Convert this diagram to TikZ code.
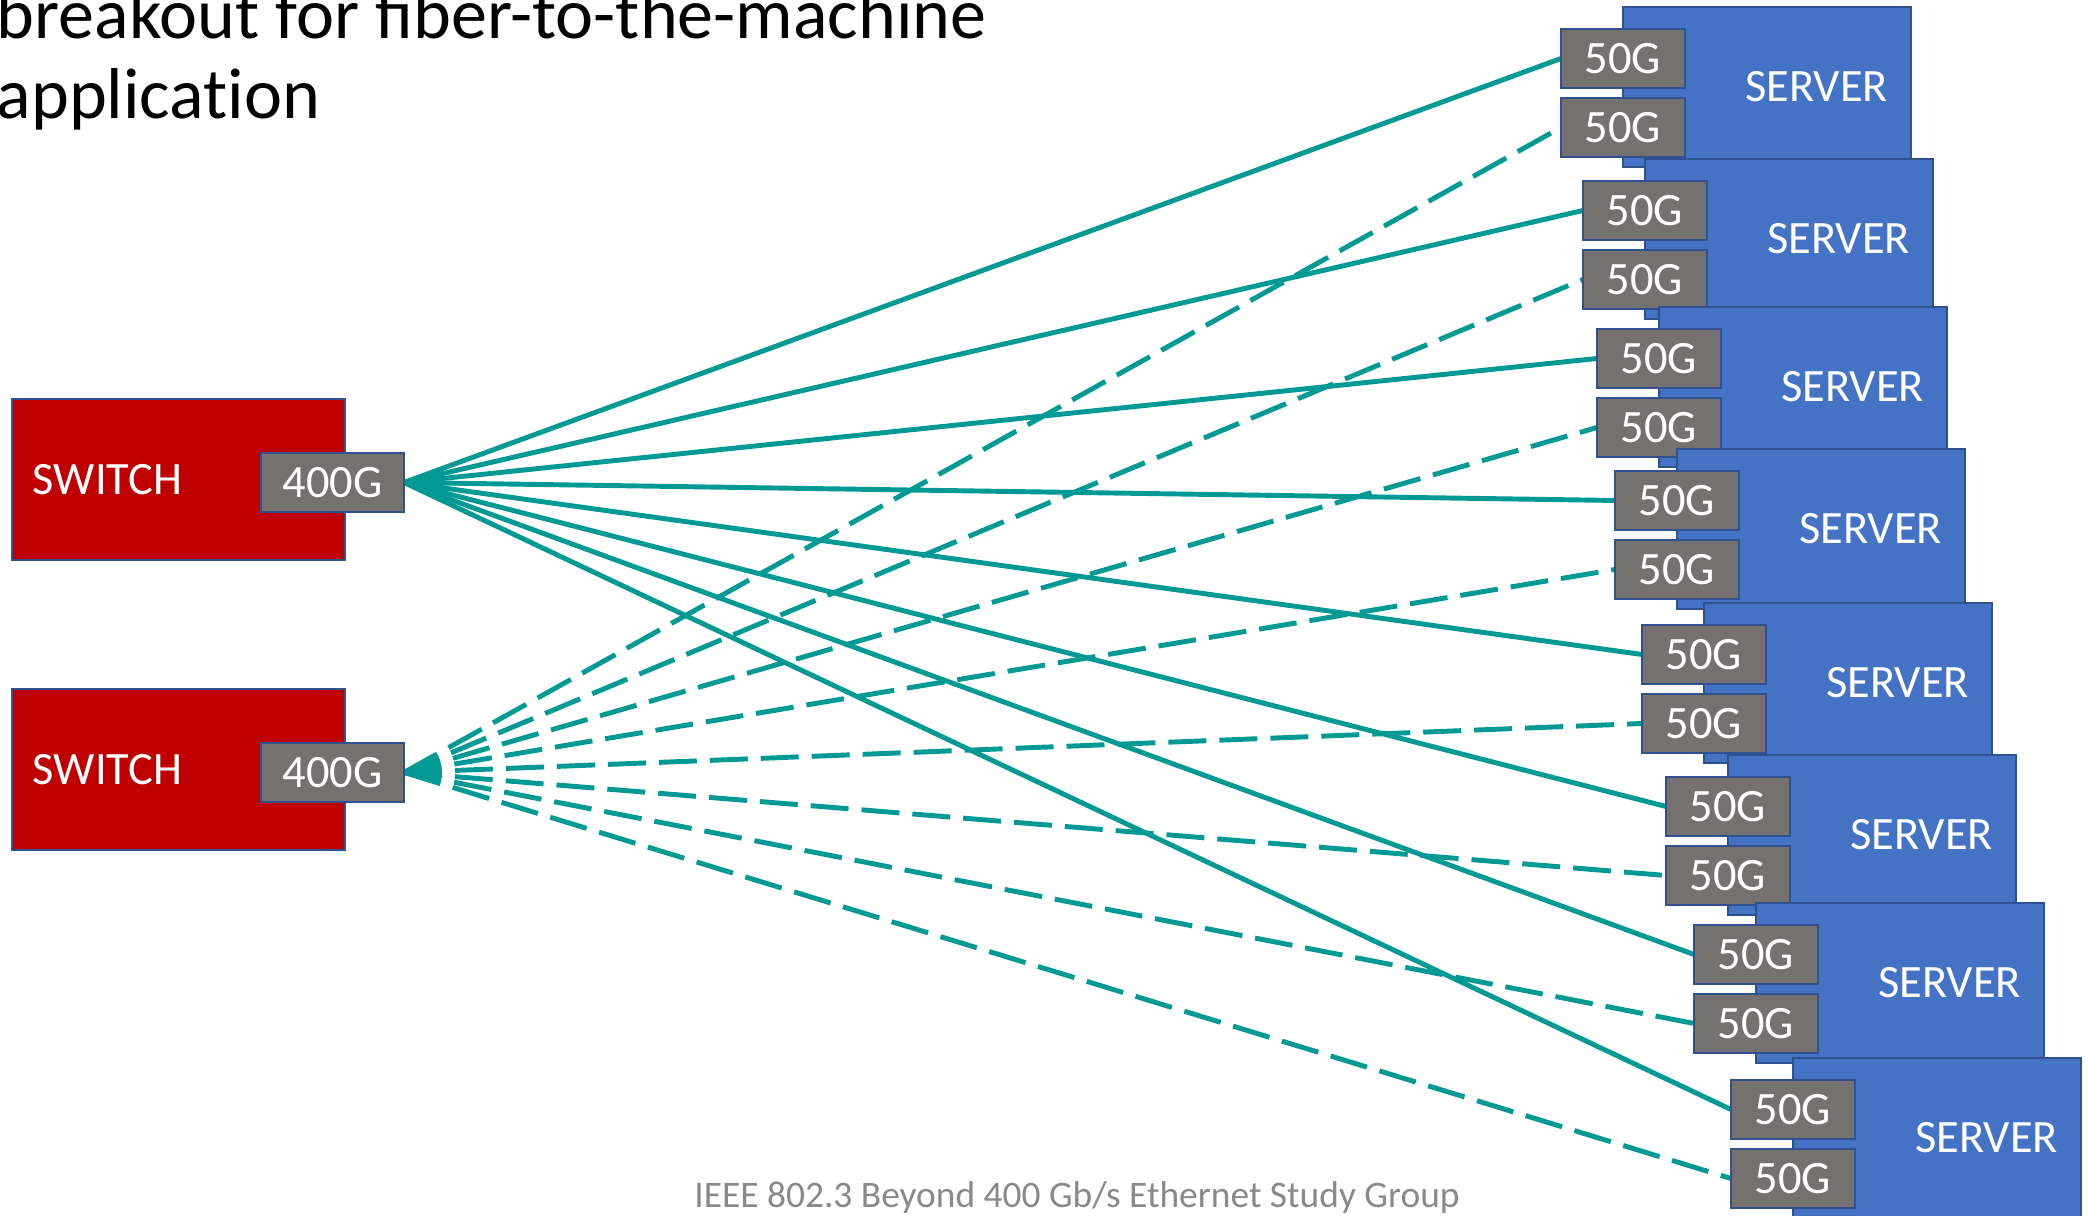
\documentclass[tikz,border=0pt]{standalone}
\usepackage{fontspec}
\setmainfont{Carlito}
\usepackage{tikz}
\usetikzlibrary{calc, positioning, backgrounds}
\definecolor{swred}{RGB}{192,0,0}
\definecolor{srvblue}{RGB}{68,114,196}
\definecolor{edgeblue}{RGB}{47,82,143}
\definecolor{portgray}{RGB}{118,113,113}
\definecolor{fiberteal}{RGB}{0,153,148}
\definecolor{footgray}{RGB}{137,137,137}

\begin{document}
\begin{tikzpicture}[
  every node/.style={font=\fontsize{13.2}{15}\selectfont, text=white},
  sw/.style={draw=edgeblue, fill=swred, line width=0.6pt, minimum width=3.33cm,
             minimum height=1.61cm, text width=2.91cm, align=left, outer sep=0pt},
  srv/.style={draw=edgeblue, fill=srvblue, line width=0.6pt, minimum width=2.88cm,
              minimum height=1.6cm, text width=2.42cm, align=right, outer sep=0pt},
  port/.style={draw=edgeblue, fill=portgray, line width=0.6pt, minimum width=1.24cm,
               minimum height=0.59cm, inner sep=0pt, outer sep=0pt},
  fib/.style={fiberteal, line width=1.4pt},
  fibd/.style={fib, dash pattern=on 0.38cm off 0.13cm}
]
\useasboundingbox (0,0) rectangle (20.88,12.16);
\node[anchor=base west, inner sep=0pt, text=black, align=left,
      font=\fontsize{20.5}{22.8}\selectfont] (title) at (-0.04,10.97)
  {breakout for fiber-to-the-machine\\applicat\kern0pt ion};
% switches with their 400G ports
\node[sw] (sw1) at (1.785,7.365) {SWITCH};
\node[sw] (sw2) at (1.785,4.465) {SWITCH};
\node[port, minimum width=1.43cm, anchor=east] (up) at ([xshift=5.9mm, yshift=-0.3mm]sw1.east) {400G};
\node[port, minimum width=1.43cm, anchor=east] (dn) at ([xshift=5.9mm, yshift=-0.3mm]sw2.east) {400G};
% stacked servers, two 50G ports each
\foreach \i/\x/\y in {1/17.67/11.29, 2/17.89/9.77, 3/18.03/8.29, 4/18.21/6.87,
                      5/18.48/5.33, 6/18.72/3.81, 7/19.00/2.33, 8/19.37/0.78} {
  \node[srv] (s\i) at (\x,\y) {SERVER};
  \node[port, anchor=north west] (pa\i) at ([xshift=-6.2mm, yshift=-2.2mm]s\i.north west) {50G};
  \node[port, anchor=north west] (pb\i) at ([xshift=-6.2mm, yshift=-9.1mm]s\i.north west) {50G};
}
\begin{scope}[on background layer]
  \foreach \i in {1,...,8} {
    \draw[fib] (up.east) -- (pa\i.west);
    \draw[fibd] (dn.east) -- (pb\i.west);
  }
\end{scope}
\node[anchor=base, inner sep=0pt, text=footgray, font=\fontsize{10.65}{12}\selectfont]
  (foot) at (10.77,0.08) {IEEE 802.3 Beyond 400 Gb/s Ethernet Study Group};
\end{tikzpicture}
\end{document}
